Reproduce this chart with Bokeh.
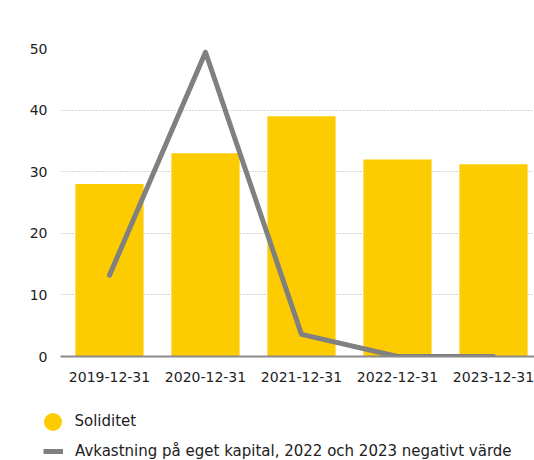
from bokeh.plotting import figure
from bokeh.models import (ColumnDataSource, Range1d, FixedTicker, Legend, LegendItem)
from bokeh.embed import file_html
from bokeh.resources import INLINE

categories = ["2019-12-31", "2020-12-31", "2021-12-31", "2022-12-31", "2023-12-31"]
soliditet = [28.0, 33.0, 39.0, 32.0, 31.2]
avkastning = [13.2, 49.4, 3.6, 0.0, 0.0]
y_ticks = [0, 10, 20, 30, 40, 50]

bar_label = "Soliditet"
line_label = "Avkastning på eget kapital, 2022 och 2023 negativt värde"

FONT = "DejaVu Sans"
TEXT = "#222222"
YELLOW = "#FCCB00"
GREY = "#808080"

idx = list(range(len(categories)))
src = ColumnDataSource(dict(x=idx, sol=soliditet, avk=avkastning))

# ---- main chart ----
p = figure(width=534, height=390, output_backend="svg", toolbar_location=None,
           x_range=Range1d(-0.5104, 4.427), y_range=Range1d(0, 50),
           min_border_left=60, min_border_right=0, min_border_top=48,
           min_border_bottom=34)
p.outline_line_color = None
p.background_fill_color = "white"
p.border_fill_color = "white"

bars = p.vbar(x="x", top="sol", width=0.71, source=src, fill_color=YELLOW, line_color=None)
line = p.line(x="x", y="avk", source=src, line_color=GREY, line_width=5,
              line_join="round", line_cap="round")

p.xgrid.grid_line_color = None
p.ygrid.grid_line_color = "#b0b0b0"
p.ygrid.grid_line_dash = "1 2"
p.ygrid.grid_line_width = 1
p.ygrid.ticker = FixedTicker(ticks=y_ticks)

xa = p.xaxis[0]
xa.ticker = FixedTicker(ticks=idx)
xa.major_label_overrides = {i: c for i, c in zip(idx, categories)}
xa.axis_line_color = "#8a8a8a"
xa.axis_line_width = 2
xa.major_tick_line_color = None
xa.minor_tick_line_color = None
xa.major_label_standoff = 9
xa.major_label_text_font = FONT
xa.major_label_text_font_size = "14px"
xa.major_label_text_color = TEXT

ya = p.yaxis[0]
ya.ticker = FixedTicker(ticks=y_ticks)
ya.axis_line_color = None
ya.major_tick_line_color = None
ya.minor_tick_line_color = None
ya.major_tick_out = 0
ya.major_label_standoff = 13
ya.major_label_text_font = FONT
ya.major_label_text_font_size = "14px"
ya.major_label_text_color = TEXT

# ---- legend strip (its renderers lie outside its ranges, only the legend shows) ----
lp = figure(width=534, height=70, output_backend="svg", toolbar_location=None,
            x_range=Range1d(-20, -10), y_range=Range1d(-20, -10),
            x_axis_location=None, y_axis_location=None,
            min_border_left=0, min_border_right=0, min_border_top=0, min_border_bottom=0)
lp.outline_line_color = None
lp.grid.grid_line_color = None
lp.background_fill_color = "white"
lp.border_fill_color = "white"

dot = lp.scatter(x="x", y="sol", source=src, size=18, fill_color=YELLOW, line_color=None)
leg_line = lp.line(x="x", y="avk", source=src, line_color=GREY, line_width=5, line_cap="butt")

def make_legend(item, loc, gw, gh, standoff):
    lg = Legend(items=[item], location=loc, orientation="vertical",
                glyph_width=gw, glyph_height=gh, label_standoff=standoff,
                padding=0, margin=0, spacing=0, border_line_color=None,
                background_fill_alpha=0, label_height=20)
    lg.label_text_font = FONT
    lg.label_text_font_size = "15px"
    lg.label_text_color = TEXT
    return lg

lp.add_layout(make_legend(LegendItem(label=bar_label, renderers=[dot]), (29.5, 16.5), 45, 45, 0))
lp.add_layout(make_legend(LegendItem(label=line_label, renderers=[leg_line]), (43, -1), 20, 20, 12))

open("out.html", "w").write(file_html([p, lp], INLINE))
